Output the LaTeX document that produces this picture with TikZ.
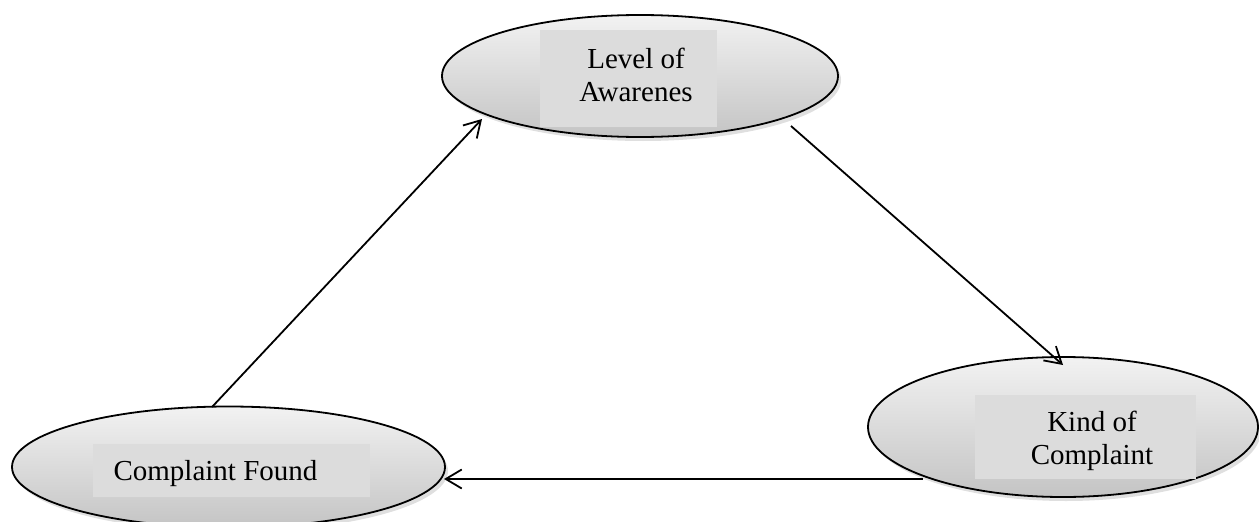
\documentclass[tikz,border=0pt]{standalone}
\usepackage{fontspec}
\setmainfont{Liberation Serif}
\usetikzlibrary{shapes.geometric,arrows.meta,shadows}
\definecolor{elltop}{HTML}{F2F2F2}
\definecolor{ellbot}{HTML}{C4C4C4}
\definecolor{boxfill}{HTML}{DCDCDC}
\tikzset{
  ell/.style={ellipse, draw=black, line width=1.8pt, inner sep=0pt,
    top color=elltop, bottom color=ellbot,
    drop shadow={opacity=0.25, shadow xshift=3pt, shadow yshift=-4pt}},
  labbox/.style={fill=boxfill, draw=none, inner sep=0pt},
  lab/.style={font=\fontsize{29}{33}\selectfont, align=center, inner sep=0pt},
  conn/.style={line width=1.8pt, -{Straight Barb[length=16pt,width=19pt,line width=1.8pt]}}
}
\begin{document}
\begin{tikzpicture}[x=1pt,y=-1pt]
\useasboundingbox (0,0) rectangle (1259,522);
% ellipses
\node[ell, minimum width=396pt, minimum height=122pt] (lvl) at (640,76) {};
\node[ell, minimum width=390pt, minimum height=140pt] (kind) at (1063,427) {};
\node[ell, minimum width=433pt, minimum height=121pt] (found) at (228.5,467) {};
% grey label boxes
\node[labbox, minimum width=177pt, minimum height=97pt] (lvlbox) at (628.5,78.5) {};
\node[labbox, minimum width=221pt, minimum height=84pt] (kindbox) at (1085.5,437) {};
\node[labbox, minimum width=277pt, minimum height=53pt] (foundbox) at (231.5,470.5) {};
% labels
\node[lab] (lvltxt) at (636,75) {Level of\\Awarenes};
\node[lab] (kindtxt) at (1092,441) {Kind of\\Complaint};
\node[lab] (foundtxt) at (215.5,474) {Complaint Found};
% connectors
\coordinate (t1) at (482,119);
\coordinate (t2) at (1063,365);
\coordinate (t3) at (444,479);
\coordinate (s1) at (212,407);
\coordinate (s2) at (791,126);
\coordinate (s3) at (923,479);
\draw[conn] (s1) -- (t1);
\draw[conn] (s2) -- (t2);
\draw[conn] (s3) -- (t3);
\end{tikzpicture}
\end{document}
